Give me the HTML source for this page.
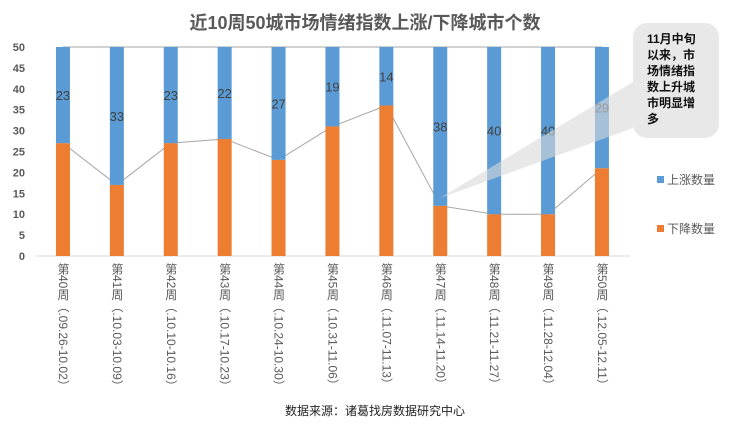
<!DOCTYPE html>
<html><head><meta charset="utf-8"><style>
body{margin:0;background:#fff;}
svg text{font-family:"Liberation Sans","Noto Sans CJK SC",sans-serif;}
</style></head><body>
<svg width="730" height="429" viewBox="0 0 730 429" id="c">
<text x="365" y="29" text-anchor="middle" font-size="18" font-weight="bold" fill="#595959">近10周50城市场情绪指数上涨/下降城市个数</text>
<g id="yaxis"></g><g id="lines"></g><g id="bars"></g><g id="xlabels"></g>
<path d="M633 82 L440 198 L633 128 Z" fill="#d9d9d9" opacity="0.6"/>
<rect x="633" y="23" width="86" height="115" rx="14" fill="#e8e8e8"/>
<g font-size="12" font-weight="bold" fill="#111">
<text x="647" y="43">11月中旬</text><text x="647" y="59">以来，市</text><text x="647" y="75">场情绪指</text><text x="647" y="91">数上升城</text><text x="647" y="107">市明显增</text><text x="647" y="123">多</text></g>
<rect x="657" y="176" width="7" height="7" fill="#5b9bd5"/>
<text x="667" y="184" font-size="12" fill="#595959">上涨数量</text>
<rect x="657" y="225" width="7" height="7" fill="#ed7d31"/>
<text x="667" y="233" font-size="12" fill="#595959">下降数量</text>
<text x="375" y="415" text-anchor="middle" font-size="12" fill="#222">数据来源：诸葛找房数据研究中心</text>
</svg>
<script>
const categories=["第40周（.09.26-10.02）","第41周（.10.03-10.09）","第42周（.10.10-10.16）","第43周（.10.17-10.23）","第44周（.10.24-10.30）","第45周（.10.31-11.06）","第46周（.11.07-11.13）","第47周（.11.14-11.20）","第48周（.11.21-11.27）","第49周（.11.28-12.04）","第50周（.12.05-12.11）"];
const riseValues=[23,33,23,22,27,19,14,38,40,40,29];
const fallValues=[27,17,27,28,23,31,36,12,10,10,21];
const yTicks=[0,5,10,15,20,25,30,35,40,45,50];
const NS="http://www.w3.org/2000/svg";
const y0=256,yTop=47,yMax=50,x0=36,step=53.9,bw=14;
const Y=v=>y0-(v/yMax)*(y0-yTop);
const X=i=>x0+step*(i+0.5);
function mk(t,a,p){const e=document.createElementNS(NS,t);for(const k in a)e.setAttribute(k,a[k]);p.appendChild(e);return e;}
const ya=document.getElementById('yaxis');
yTicks.forEach(v=>{const t=mk('text',{x:25,y:Y(v)+4,'text-anchor':'end','font-size':11,'font-weight':'bold',fill:'#595959'},ya);t.textContent=v;

});
const ax=mk('line',{x1:x0,x2:630,y1:y0,y2:y0,stroke:'#d9d9d9'},ya);


const lg=document.getElementById('lines');
let p1='',p2='';
fallValues.forEach((v,i)=>{p1+=(i?'L':'M')+X(i)+' '+Y(v)+' ';p2+=(i?'L':'M')+X(i)+' '+Y(v+riseValues[i])+' ';});
const l1=mk('path',{d:p1,fill:'none',stroke:'#a6a6a6','stroke-width':1},lg);


const l2=mk('path',{d:p2,fill:'none',stroke:'#a6a6a6','stroke-width':1},lg);


const bg=document.getElementById('bars'),xl=document.getElementById('xlabels');
categories.forEach((c,i)=>{
 const f=fallValues[i],r=riseValues[i],cx=X(i);
 const b1=mk('rect',{x:cx-bw/2,y:Y(f),width:bw,height:y0-Y(f),fill:'#ed7d31'},bg);
 
 
 const b2=mk('rect',{x:cx-bw/2,y:Y(f+r),width:bw,height:Y(f)-Y(f+r),fill:'#5b9bd5'},bg);
 
 
 const t=mk('text',{x:cx,y:(Y(f)+Y(f+r))/2+5,'text-anchor':'middle','font-size':13,fill:'#404040'},bg);t.textContent=r;
 
 
 const xt=mk('text',{x:cx,y:263,'font-size':12,fill:'#595959','writing-mode':'tb',style:'writing-mode:vertical-rl'},xl);xt.textContent=c;
 
 
});
</script>
</body></html>
